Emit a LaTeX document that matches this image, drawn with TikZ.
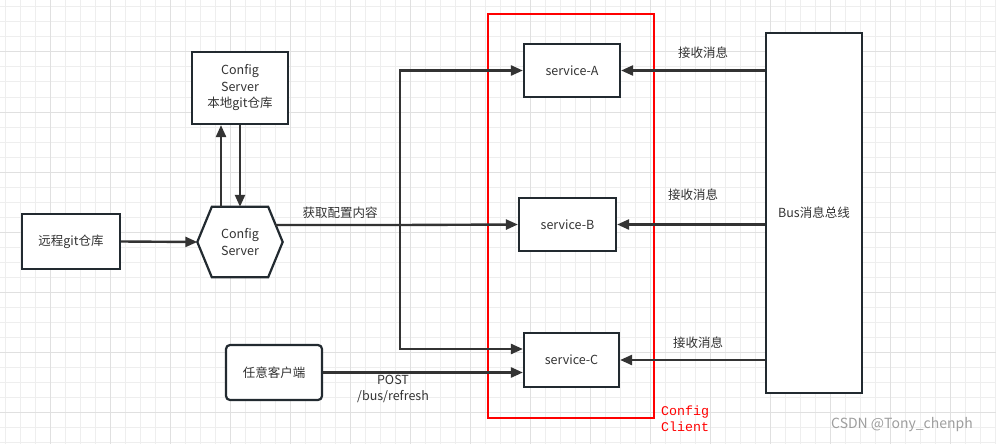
\documentclass[tikz,border=0pt]{standalone}
\usepackage{fontspec}
\setmainfont{Noto Sans CJK SC}
\newfontfamily\monofnt{Liberation Mono}
\usetikzlibrary{arrows.meta}
\definecolor{gridminor}{HTML}{EEEEEE}
\definecolor{gridmajor}{HTML}{E0E0E0}
\definecolor{linec}{HTML}{333333}
\definecolor{boxc}{HTML}{222A30}
\definecolor{txtc}{HTML}{333333}
\tikzset{
  box/.style={draw=boxc, line width=2.2pt, fill=white, inner sep=0pt, align=center,
    text=txtc, font=\fontsize{12.5}{16.5}\selectfont},
  hexnode/.style={inner sep=0pt, minimum width=85pt, minimum height=70pt, align=center,
    text=txtc, font=\fontsize{12.5}{16.5}\selectfont},
  conn/.style={draw=linec, line width=2.4pt},
  arr/.style={conn, -{Triangle[length=12pt,width=10pt]}},
  lbl/.style={text=txtc, inner sep=0pt, align=center, font=\fontsize{12.5}{16.5}\selectfont},
}
\begin{document}
\begin{tikzpicture}[x=1pt,y=-1pt]
\useasboundingbox (0,0) rectangle (996,444);
\fill[white] (0,0) rectangle (996,444);
% grid
\foreach \x in {5,20,...,995} \draw[gridminor, line width=1pt] (\x,0) -- (\x,444);
\foreach \y in {7,22,...,442} \draw[gridminor, line width=1pt] (0,\y) -- (996,\y);
\foreach \x in {50,110,...,950} \draw[gridmajor, line width=1pt] (\x,0) -- (\x,444);
\foreach \y in {52,112,...,412} \draw[gridmajor, line width=1pt] (0,\y) -- (996,\y);

% red client frame
\draw[red, line width=1.8pt] (488,14) rectangle (654,418);
\node[text=red, anchor=west, align=left, inner sep=0pt,
  font=\monofnt\fontsize{13.3}{16.5}\selectfont] (cc) at (661,418.5) {Config\\Client};

% nodes
\node[box, minimum width=98pt, minimum height=55pt] (remote) at (71,241.5) {远程git仓库};
\node[box, minimum width=96pt, minimum height=72pt] (local) at (240,88) {Config\\Server\\本地git仓库};
\node[hexnode] (cs) at (240,242) {Config\\Server};
\draw[draw=boxc, line width=2.2pt, fill=white]
  (cs.west) -- ([xshift=14.5pt]cs.north west) -- ([xshift=-14.5pt]cs.north east)
  -- (cs.east) -- ([xshift=-14.5pt]cs.south east) -- ([xshift=14.5pt]cs.south west) -- cycle;
\node[hexnode] at (cs.center) {Config\\Server};

\node[box, minimum width=96pt, minimum height=53pt] (sA) at (572,70.5) {service-A};
\node[box, minimum width=97pt, minimum height=53pt] (sB) at (567.5,224.5) {service-B};
\node[box, minimum width=95pt, minimum height=54pt] (sC) at (571.5,360) {service-C};
\node[box, minimum width=96pt, minimum height=360pt] (bus) at (814,213) {Bus消息总线};
\node[box, rounded corners=4pt, minimum width=96pt, minimum height=55pt] (client) at (274,372.5) {任意客户端};

% connectors
\draw[arr] (remote.east) -- (cs.west);
\draw[arr] ([xshift=-19pt]cs.north) -- ([xshift=-19pt]local.south);
\draw[arr] (local.south) -- (cs.north);

\coordinate (hx) at (275,225);
\coordinate (j) at (400,225);
\draw[arr] (hx) -- (j) -- (sB.west);
\draw[arr] (j) |- (sA.west);
\draw[arr] (j) |- ([yshift=11pt]sC.west);
\draw[arr] (client.east) -- (client.east -| sC.west);

\draw[arr] (sA.east -| bus.west) -- (sA.east);
\draw[arr] (sB.east -| bus.west) -- (sB.east);
\draw[arr] (sC.east -| bus.west) -- (sC.east);

% labels
\node[lbl] (l1) at (340,213) {获取配置内容};
\node[lbl] (l2) at (393,389) {POST\\/bus/refresh};
\node[lbl] (l3) at (703,53) {接收消息};
\node[lbl] (l4) at (693,195) {接收消息};
\node[lbl] (l5) at (698,343) {接收消息};

\node[text=black!38, inner sep=0pt, font=\fontsize{14}{16}\selectfont] (wm) at (902,425) {CSDN @Tony\_chenph};
\end{tikzpicture}
\end{document}
